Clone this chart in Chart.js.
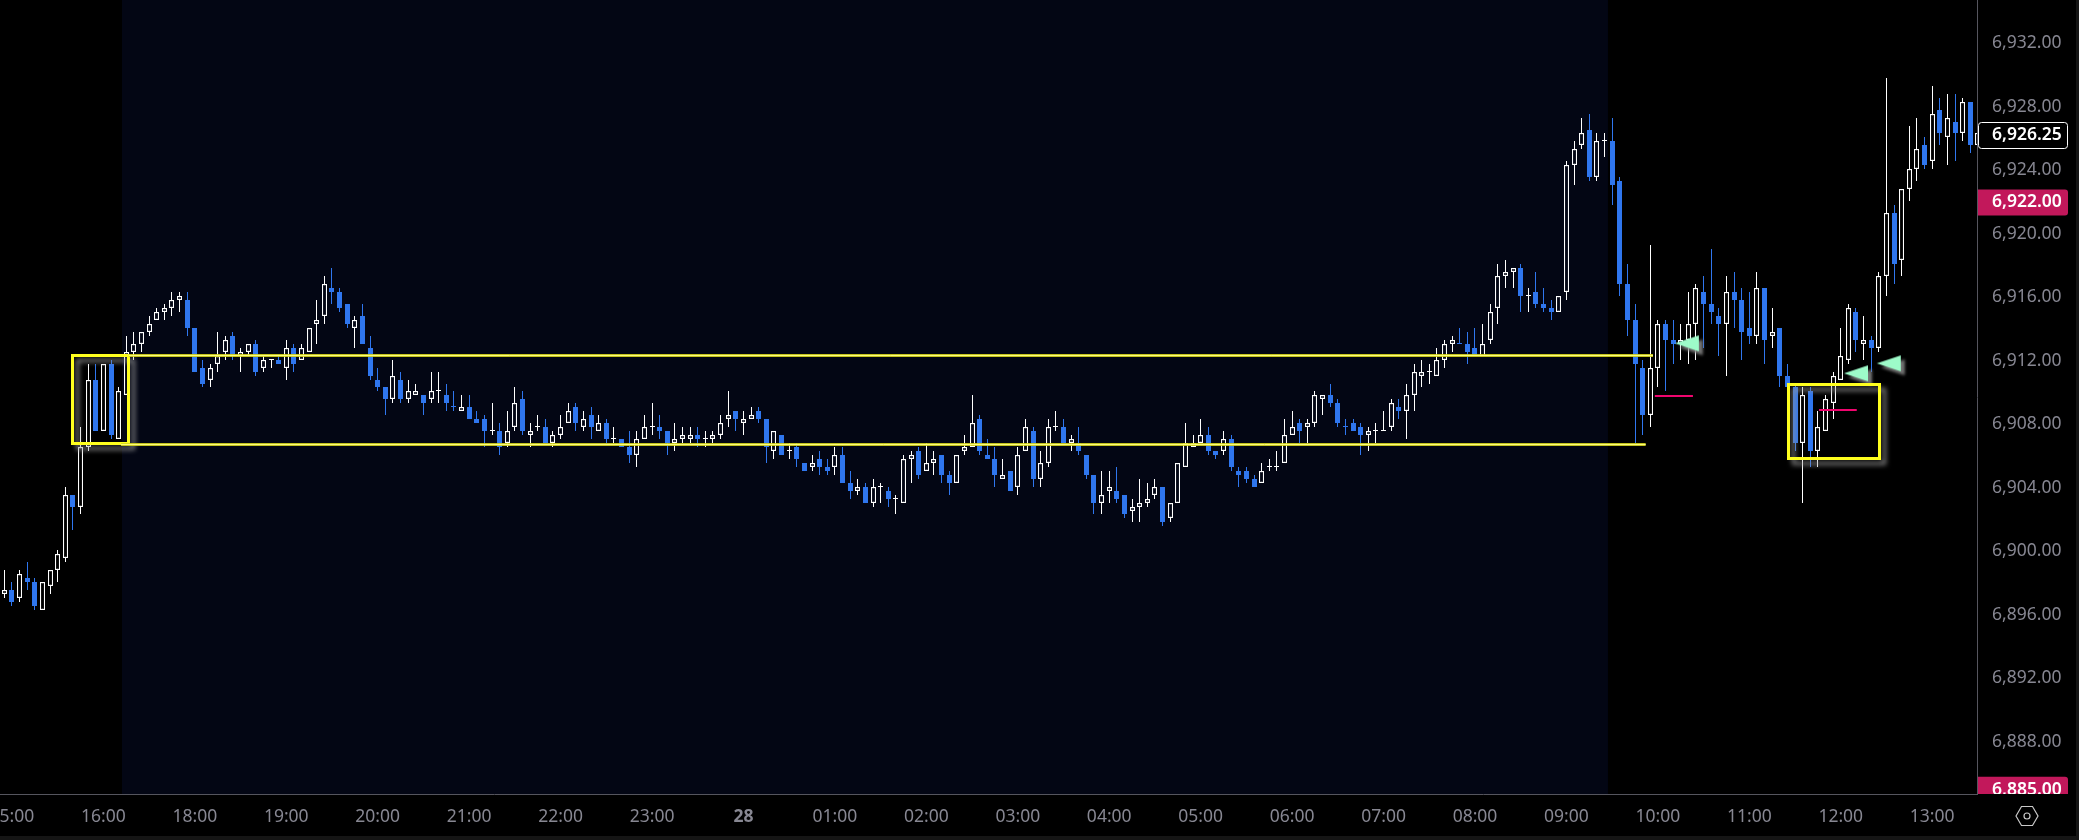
<!DOCTYPE html>
<html>
<head>
<meta charset="utf-8">
<title>Chart</title>
<script src="https://cdn.jsdelivr.net/npm/chart.js@4/dist/chart.umd.min.js"></script>
<style>
  html, body { margin: 0; padding: 0; background: #000; overflow: hidden; }
  canvas { display: block; }
</style>
</head>
<body>
<canvas id="grafico" width="2079" height="840"></canvas>
<script>
// 5 minute candles
const opens = [
  6897.25,6897.5,6897,6898.25,6898,6896.25,6897.75,6898.75,6899.5,6903.5,
  6902.75,6906.5,6910.75,6907.5,6911.75,6907,6909.75,6912.5,6913,6913.75,
  6914.5,6915,6915.25,6915.75,6915.75,6914,6911.5,6910.75,6911.75,6912.5,
  6913.5,6912.25,6912.5,6913,6911.5,6912,6912,6911.5,6912.75,6912,
  6912.5,6914.25,6914.75,6916.5,6916.25,6915.5,6914,6914.75,6912.75,6910.75,
  6910.25,6909.5,6910.75,6909.5,6909.75,6909.75,6909.5,6910,6909.75,6909,
  6908.75,6909,6908.25,6908.25,6907.5,6907.5,6906.75,6907.75,6909.5,6907.25,
  6907.75,6907.75,6906.75,6907.25,6908,6909,6907.75,6908.5,6907.5,6908,
  6907,6907,6906.5,6906,6907,6907.75,6907.75,6907.5,6906.75,6907,
  6907,6907.25,6907,6907,6907.25,6908.25,6908.75,6908,6908.25,6908.75,
  6908.25,6906.25,6907.25,6906.25,6906.5,6905.5,6905.25,6905.75,6905.25,6905.25,
  6906,6904.25,6903.75,6904,6903,6904,6903.75,6903.25,6903,6905.75,
  6906.25,6905,6905.5,6906,6904.75,6904.25,6906.25,6906.5,6908.25,6906,
  6905.75,6904.5,6905,6904,6906.25,6907.5,6904.5,6905.5,6907.75,6907.75,
  6906.75,6906.75,6906,6904.75,6903,6903.75,6903.75,6903.5,6902.5,6902.75,
  6903,6903.5,6904,6902,6903,6905.25,6906.5,6906.75,6907.25,6906.25,
  6906.25,6907,6905,6905,6904.5,6904.25,6905.25,6905.25,6905.5,6907.25,
  6908,6907.75,6908,6909.5,6909.75,6909.25,6907.75,6908,6907.75,6907.25,
  6907.5,6907.5,6907.75,6909,6908.75,6909.75,6911,6911.25,6911,6912,
  6913,6913,6913,6912.75,6912.25,6913.25,6915.25,6917.25,6917.5,6917.75,
  6916,6916.25,6915.5,6915.25,6915,6916.25,6924.25,6925.5,6926.5,6923.5,
  6925.75,6925.75,6923.25,6916.75,6914.5,6911.5,6908.5,6911.5,6914.25,6913.25,
  6913,6913.25,6914.25,6916.25,6915.5,6914.75,6914.25,6916.25,6915.75,6914,
  6913.5,6916.5,6913.5,6914,6911,6910.25,6906.75,6910,6906.25,6907.5,
  6909.25,6910.75,6912,6915,6913,6913.25,6912.75,6917.25,6921.25,6918.25,
  6922.75,6924,6925.5,6924.5,6927.75,6926,6927,6926.25,6928.25,6925.5
];
const highs = [
  6898.75,6898,6898.75,6899.25,6898.25,6898,6898.75,6900,6904,6903.5,
  6907.75,6911.75,6911.75,6911.75,6912,6910.25,6913.5,6913.75,6913.75,6914.75,
  6915.25,6915.5,6916.25,6916.25,6916.25,6914,6912,6911.75,6913.75,6913.5,
  6913.75,6912.75,6913,6913.25,6912.25,6912,6912.25,6913.25,6913,6913,
  6914,6915.75,6917.25,6917.75,6916.5,6915.5,6914.75,6915.5,6913.5,6911.5,
  6910.25,6912,6911.25,6910.75,6910.5,6909.75,6911.25,6911.25,6910.5,6910,
  6909.75,6909.75,6908.75,6908.5,6909.25,6908,6908.75,6910.25,6910,6908,
  6908.5,6908.25,6907.5,6908.5,6909.25,6909.25,6908.75,6909,6908.5,6908.25,
  6907.75,6907,6907.5,6907.5,6908.5,6909.25,6908.5,6907.5,6908,6907.75,
  6907.75,6907.75,6907.5,6907.5,6908.5,6910,6908.75,6908.75,6909,6909,
  6908.25,6907.5,6907.25,6906.75,6906.75,6905.5,6906,6906.25,6905.75,6906.5,
  6906.5,6905,6904.5,6904.25,6904.5,6904.25,6904,6903.5,6906,6906.25,
  6906.5,6906.75,6906.25,6906,6905,6906,6907.25,6909.75,6908.5,6907,
  6906.5,6905.75,6905,6906.5,6908.25,6907.75,6906.25,6908.25,6908.75,6908.25,
  6907.25,6907.75,6906,6904.75,6905,6905,6905.25,6903.5,6903.25,6904.5,
  6904.25,6904.5,6904,6903,6905.5,6908,6907.25,6908.25,6907.75,6906.25,
  6907.5,6907.25,6905.25,6905.25,6904.75,6905.5,6905.75,6906.25,6908.25,6908.75,
  6908.25,6908.25,6910,6909.75,6910.5,6909.5,6908.25,6908.25,6908,6907.75,
  6908,6908.75,6909.5,6909.5,6910.5,6911.75,6912,6911.75,6912.75,6913.25,
  6913.5,6914,6913.75,6914,6914.25,6915.5,6918,6918.25,6917.75,6918,
  6916.5,6917.5,6916.5,6915.75,6916,6924.5,6925.75,6927.25,6927.5,6926.25,
  6926.25,6927.25,6923.5,6918,6915.5,6912,6919.25,6914.5,6914.5,6914.5,
  6914.25,6916.25,6916.75,6917.25,6919,6915.25,6917.25,6917.5,6916.5,6916.25,
  6917.5,6916.5,6915.25,6914,6911.75,6910.5,6910.25,6910.25,6908.75,6909.75,
  6911.25,6914,6915.5,6915.25,6914.75,6913.5,6917.5,6929.75,6921.75,6922.75,
  6926.75,6927.25,6926,6929.25,6928.5,6928.75,6928.75,6928.5,6928.25,6926.25
];
const lows = [
  6897,6896.5,6896.75,6897.5,6896.25,6896.25,6897.25,6898,6899.25,6901.25,
  6902.25,6906.25,6907.5,6907.5,6907,6907,6909.75,6912,6912.5,6913.5,
  6914.5,6914.5,6914.75,6915,6913.5,6911.25,6910.25,6910.25,6911.25,6912,
  6912,6911.25,6912.25,6911,6911.25,6911.5,6911.75,6910.75,6911.25,6912,
  6912.5,6913,6914.25,6915.5,6915,6914,6912.75,6913,6910.75,6910,
  6908.5,6909.25,6909.25,6909.25,6909.75,6908.5,6909.25,6909.25,6908.75,6908.75,
  6908.75,6908.25,6908,6906.5,6907.25,6906,6906.5,6907.5,6907.25,6906.5,
  6907.5,6906.75,6906.5,6907,6908,6907.5,6907.5,6907,6907.5,6906.75,
  6906.75,6906.5,6905.5,6905.25,6907,6907.25,6907,6906,6906.25,6906.75,
  6906.75,6906.5,6906.5,6906.75,6907,6907.75,6907.5,6907.25,6908.25,6908,
  6905.5,6905.75,6906,6905.75,6905.25,6905,6905,6904.75,6904.75,6904.75,
  6904.25,6903.25,6903.5,6903,6902.75,6903,6902.75,6902.25,6903,6904.25,
  6904.5,6905,6904.75,6904.25,6903.5,6904.25,6906,6906.5,6906,6905.75,
  6904,6904.5,6903.75,6903.5,6906.25,6904,6904,6905.25,6907.5,6906.75,
  6906.25,6906,6904.5,6902.25,6902.25,6903,6903,6902,6901.75,6901.75,
  6902.75,6903.25,6901.5,6901.75,6903,6905.25,6906.5,6906.75,6906,6905.75,
  6906,6905,6904,6904.25,6904,6904.25,6905,6905,6905.5,6907.25,
  6906.75,6906.75,6907.75,6908.5,6909,6907.75,6907.25,6907.5,6906,6906.25,
  6906.75,6907.5,6907.5,6908.25,6907,6908.75,6910.25,6910.5,6911,6911.5,
  6912.5,6913,6911.75,6912.25,6912.25,6913,6914.25,6916.5,6916.5,6915,
  6915,6915.25,6915,6914.5,6915,6915.75,6923,6925.25,6923.25,6923.25,
  6924.75,6921.75,6916,6913.5,6906.75,6907.25,6907.75,6910.25,6910,6911.75,
  6912,6911.75,6912,6912.75,6914.25,6912.25,6911,6914,6912,6913,
  6913,6911.75,6912.75,6910.25,6910.25,6906.25,6903,6905.25,6905.25,6907.5,
  6908.25,6910.75,6911.75,6912.5,6912,6911.25,6912.5,6916,6916.75,6917.25,
  6922,6923.25,6924,6924,6925.5,6924.25,6924.5,6925.75,6925,6925.5
];
const closes = [
  6897.5,6896.75,6898.5,6898,6896.5,6898,6898.75,6899.75,6903.5,6902.75,
  6906.5,6910.75,6907.5,6911.75,6907.25,6910,6912.5,6913,6913.75,6914.25,
  6915,6915.25,6915.75,6916,6914,6911.25,6910.5,6911.5,6912.25,6913.25,
  6912.25,6912.5,6913,6911.25,6912,6912,6911.75,6912.75,6911.75,6912.75,
  6914,6914.5,6916.75,6916.25,6915.25,6914.25,6914.5,6913,6911,6910.25,
  6909.5,6911,6909.5,6910,6910,6909.25,6910,6910,6909.25,6909,
  6909,6908.25,6908,6907.5,6907.5,6906.5,6907.5,6909.25,6907.5,6907.5,
  6907.75,6906.75,6907.25,6907.75,6908.75,6908,6908.25,6907.75,6908,6907,
  6907,6906.5,6906,6907,6907.75,6907.75,6907.5,6906.75,6907,6907.25,
  6907.25,6907,6907,6907.25,6908,6908.5,6908.25,6908.25,6908.5,6908.25,
  6906.5,6907.5,6906,6906.25,6905.75,6905,6905.5,6905.25,6905,6906,
  6904.25,6903.75,6904,6903,6904,6904,6903.25,6903.25,6905.75,6906,
  6904.75,6905.5,6905.75,6904.75,6904.25,6906,6906.5,6908,6906.25,6905.75,
  6904.75,6904.75,6903.75,6906,6907.75,6904.5,6905.5,6907.75,6907.75,6906.75,
  6907,6906.25,6904.75,6903,6903.5,6904,6903.25,6902.25,6902.75,6903,
  6903.25,6904,6901.75,6903,6905.5,6906.75,6906.75,6907.25,6906.25,6906,
  6907,6905.25,6904.75,6904.5,6904,6905,6905.25,6905.25,6907.25,6907.75,
  6907.5,6908,6909.75,6909.75,6909.25,6908,6907.75,6907.5,6907.25,6907.5,
  6907.5,6907.5,6909.25,6908.75,6909.75,6911.25,6911.25,6911.25,6912,6913,
  6913.25,6913,6912.5,6912.25,6913,6915,6917.25,6917.5,6917.75,6916,
  6916,6915.5,6915.25,6915,6916,6924.25,6925.25,6926.25,6923.5,6925.75,
  6925.75,6923,6916.75,6914.5,6911.75,6908.5,6911.5,6914.25,6913.25,6913,
  6913.25,6914.25,6916.5,6915.5,6915,6914.25,6916.25,6915.75,6913.75,6913.5,
  6916.5,6913.25,6913.75,6911,6910.25,6906.75,6909.75,6906.25,6907.75,6909.5,
  6911,6912.25,6915.25,6913.25,6913.25,6912.75,6917.25,6921.25,6918,6922.75,
  6924,6925.25,6924.25,6927.5,6926.25,6927.25,6926.25,6928.25,6925.5,6926.25
];
// flat candles that are still painted blue
const flatDown = [59, 176, 191];

const xTickIdx = [1,13,25,37,49,61,73,85,97,109,121,133,145,157,169,181,193,205,217,229,241,253];
const xTickLabels = ['15:00','16:00','18:00','19:00','20:00','21:00','22:00','23:00','28','01:00','02:00',
  '03:00','04:00','05:00','06:00','07:00','08:00','09:00','10:00','11:00','12:00','13:00'];
const yTickValues = [6932,6928,6924,6920,6916,6912,6908,6904,6900,6896,6892,6888];

const sessionBand = [15.44, 210.45];

// yellow zones and lines, in candle index / price
const zoneBoxes = [[8.88, 6912.27, 16.32, 6906.72], [234.07, 6910.5, 246.03, 6905.8]];
const zoneLines = [[16.32, 216.36, 6912.27], [15.3, 215.4, 6906.72]];
const pinkLines = [[216.6, 221.6, 6909.7], [238.15, 243.1, 6908.8]];
const arrowPoints = [[220.8, 6913.03], [243, 6911.14], [247.3, 6911.77]];

const lastPrice = 6926.25;
const redPrices = [6922, 6885];

const COLOR_UP = '#ffffff';
const COLOR_DOWN = '#2f76ee';
const COLOR_NAVY = '#030614';
const COLOR_AXIS = '#55555e';
const COLOR_TEXT = '#878792';
const COLOR_RED = '#c2185b';
const FONT_FAMILY = '"Noto Sans", sans-serif';
const FONT_SIZE = 17.5;

const isDown = (i) => closes[i] < opens[i] || flatDown.includes(i);
const formatPrice = (v) => v.toLocaleString('en-US', { minimumFractionDigits: 2, maximumFractionDigits: 2 });

// arrow marker with its soft shadow, used as point style
function crearFlecha() {
  const c = document.createElement('canvas');
  c.width = 40;
  c.height = 32;
  const g = c.getContext('2d');
  g.shadowColor = 'rgba(130,130,130,0.9)';
  g.shadowOffsetX = 4;
  g.shadowOffsetY = 4;
  g.shadowBlur = 3;
  g.fillStyle = '#9dfbc9';
  g.beginPath();
  g.moveTo(8, 16);
  g.lineTo(32, 8);
  g.lineTo(32, 24);
  g.closePath();
  g.fill();
  return c;
}

// snap bars on whole pixels, the original candles are not anti-aliased
const snapBars = {
  id: 'snapBars',
  beforeDatasetDraw(chart, args) {
    if (args.meta.type !== 'bar') return;
    args.meta.data.forEach((el) => {
      el.x = Math.floor(el.x) + 0.5;
      el.y = Math.round(el.y);
      el.base = Math.round(el.base);
      if (el.y === el.base) el.base = el.y + 1;
    });
  },
};

const background = {
  id: 'background',
  beforeDraw(chart) {
    const { ctx, width, height, scales: { x }, chartArea } = chart;
    ctx.save();
    ctx.fillStyle = '#000';
    ctx.fillRect(0, 0, width, height);
    ctx.fillStyle = COLOR_NAVY;
    const left = x.getPixelForValue(sessionBand[0]);
    ctx.fillRect(left, 0, x.getPixelForValue(sessionBand[1]) - left, chartArea.bottom);
    ctx.fillStyle = '#151515';
    ctx.fillRect(0, 836, width, 4);
    ctx.fillRect(2076, 0, 3, height);
    ctx.restore();
  },
};

const overlays = {
  id: 'overlays',
  afterDatasetsDraw(chart) {
    const { ctx, scales: { x, y } } = chart;
    ctx.save();

    zoneBoxes.forEach(([x0, y0, x1, y1]) => {
      const px = Math.round(x.getPixelForValue(x0)) + 0.5;
      const py = Math.round(y.getPixelForValue(y0)) + 0.5;
      const w = Math.round(x.getPixelForValue(x1) - px);
      const h = Math.round(y.getPixelForValue(y1) - py);
      ctx.save();
      ctx.shadowColor = 'rgba(150,150,150,0.9)';
      ctx.shadowOffsetX = 5;
      ctx.shadowOffsetY = 5;
      ctx.shadowBlur = 5;
      ctx.strokeStyle = '#ffff1e';
      ctx.lineWidth = 3;
      ctx.strokeRect(px, py, w, h);
      ctx.restore();
    });

    zoneLines.forEach(([x0, x1, price]) => {
      const py = Math.round(y.getPixelForValue(price)) + 0.5;
      const a = x.getPixelForValue(x0);
      const b = x.getPixelForValue(x1);
      ctx.beginPath();
      ctx.moveTo(a, py);
      ctx.lineTo(b, py);
      ctx.strokeStyle = 'rgba(215,215,30,0.9)';
      ctx.lineWidth = 3;
      ctx.stroke();
      ctx.strokeStyle = 'rgba(255,255,130,0.95)';
      ctx.lineWidth = 1;
      ctx.stroke();
    });

    pinkLines.forEach(([x0, x1, price]) => {
      const py = Math.round(y.getPixelForValue(price));
      ctx.fillStyle = '#f0056e';
      ctx.fillRect(x.getPixelForValue(x0), py - 1, x.getPixelForValue(x1) - x.getPixelForValue(x0), 2);
    });

    ctx.restore();
  },
};

const priceTags = {
  id: 'priceTags',
  afterDraw(chart) {
    const { ctx, scales: { y } } = chart;
    const textX = y.left + 15;
    ctx.save();
    ctx.font = '600 ' + FONT_SIZE + 'px ' + FONT_FAMILY;
    ctx.textBaseline = 'middle';
    ctx.textAlign = 'left';

    // tags reach down only to the time axis
    ctx.beginPath();
    ctx.rect(y.left, 0, chart.width - y.left, y.bottom);
    ctx.clip();

    redPrices.forEach((price) => {
      const cy = y.getPixelForValue(price) + 1.5;
      ctx.fillStyle = COLOR_RED;
      ctx.beginPath();
      ctx.roundRect(y.left + 1, cy - 13, 90, 26, [0, 3, 3, 0]);
      ctx.fill();
      ctx.fillStyle = '#fff';
      ctx.fillText(formatPrice(price), textX, cy);
    });

    const cy = y.getPixelForValue(lastPrice) + 1.5;
    ctx.fillStyle = '#000';
    ctx.strokeStyle = '#fff';
    ctx.lineWidth = 1;
    ctx.beginPath();
    ctx.roundRect(y.left + 1.5, Math.round(cy - 13) + 0.5, 89, 26, 3);
    ctx.fill();
    ctx.stroke();
    ctx.fillStyle = '#fff';
    ctx.fillText(formatPrice(lastPrice), textX, cy);
    ctx.restore();

    // settings icon in the corner
    const cx = 2027, gy = 816;
    ctx.save();
    ctx.strokeStyle = '#c9c9c9';
    ctx.lineWidth = 1.2;
    ctx.beginPath();
    [[-11,0],[-5.5,-9.5],[5.5,-9.5],[11,0],[5.5,9.5],[-5.5,9.5]].forEach(([dx, dy], i) => {
      if (i === 0) ctx.moveTo(cx + dx, gy + dy);
      else ctx.lineTo(cx + dx, gy + dy);
    });
    ctx.closePath();
    ctx.stroke();
    ctx.beginPath();
    ctx.arc(cx, gy, 3, 0, Math.PI * 2);
    ctx.stroke();
    ctx.restore();
  },
};

const xValues = opens.map((_, i) => i);

new Chart(document.getElementById('grafico').getContext('2d'), {
  data: {
    datasets: [
      {
        type: 'scatter',
        order: 0,
        data: arrowPoints.map(([px, py]) => ({ x: px, y: py })),
        pointStyle: crearFlecha(),
        pointRadius: 10,
        showLine: false,
      },
      {
        type: 'bar',
        order: 1,
        grouped: false,
        data: xValues.map((i) => ({ x: i, y: [opens[i], closes[i]] })),
        barThickness: 5,
        minBarLength: 1,
        inflateAmount: 0,
        borderSkipped: false,
        borderWidth: xValues.map((i) => (isDown(i) ? 0 : 1.25)),
        borderColor: COLOR_UP,
        backgroundColor: xValues.map((i) => {
          if (isDown(i)) return COLOR_DOWN;
          if (opens[i] === closes[i]) return COLOR_UP;
          return i >= sessionBand[0] && i <= sessionBand[1] ? COLOR_NAVY : '#000';
        }),
      },
      {
        type: 'bar',
        order: 2,
        grouped: false,
        data: xValues.map((i) => ({ x: i, y: [lows[i], highs[i]] })),
        barThickness: 1,
        inflateAmount: 0,
        borderWidth: 0,
        backgroundColor: xValues.map((i) => (isDown(i) ? COLOR_DOWN : COLOR_UP)),
      },
    ],
  },
  options: {
    responsive: false,
    animation: false,
    events: [],
    layout: { padding: 0, autoPadding: false },
    plugins: { legend: { display: false }, tooltip: { enabled: false } },
    scales: {
      x: {
        type: 'linear',
        offset: false,
        min: -4.33 / 7.62,
        max: (1977 - 4.33) / 7.62,
        afterBuildTicks: (axis) => { axis.ticks = xTickIdx.map((v) => ({ value: v })); },
        afterFit: (axis) => {
          axis.height = 46;
          axis.paddingLeft = 0;
          axis.paddingRight = 0;
        },
        grid: { display: false, drawTicks: false, offset: false },
        border: { display: true, color: COLOR_AXIS, width: 1 },
        ticks: {
          autoSkip: false,
          maxRotation: 0,
          padding: 13,
          color: COLOR_TEXT,
          font: (ctx) => ({
            family: FONT_FAMILY,
            size: FONT_SIZE,
            weight: ctx.tick && xTickIdx.indexOf(ctx.tick.value) === xTickLabels.indexOf('28') ? 'bold' : 'normal',
          }),
          callback: (value) => xTickLabels[xTickIdx.indexOf(value)],
        },
      },
      y: {
        type: 'linear',
        position: 'right',
        min: 6920 - (794 - 232.7) / 15.875,
        max: 6920 + 232.7 / 15.875,
        afterBuildTicks: (axis) => { axis.ticks = yTickValues.map((v) => ({ value: v })); },
        afterFit: (axis) => {
          axis.width = 102;
          axis.paddingTop = 0;
          axis.paddingBottom = 0;
        },
        grid: { display: false, drawTicks: false },
        border: { display: true, color: COLOR_AXIS, width: 1 },
        ticks: {
          autoSkip: false,
          padding: 15,
          labelOffset: 1,
          crossAlign: 'near',
          color: COLOR_TEXT,
          font: { family: FONT_FAMILY, size: FONT_SIZE },
          callback: (value) => formatPrice(value),
        },
      },
    },
  },
  plugins: [background, snapBars, overlays, priceTags],
});
</script>
</body>
</html>
